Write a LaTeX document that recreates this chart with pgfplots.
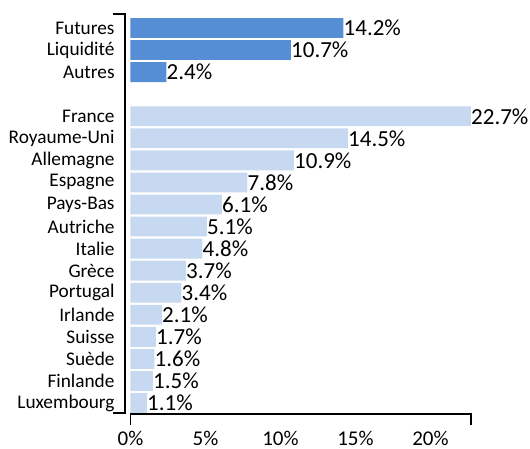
\documentclass[border=0pt]{standalone}
\usepackage{fontspec}
\setmainfont{Carlito}
\usepackage{pgfplots}
\pgfplotsset{compat=1.18}
\definecolor{dblue}{HTML}{558ED5}
\definecolor{lblue}{HTML}{C6D9F1}
\begin{document}
\begin{tikzpicture}
\begin{axis}[
  scale only axis,
  width=340.5pt, height=401.5pt,
  xmin=0, xmax=22.7,
  ymin=-0.7, ymax=17.5,
  y dir=reverse,
  clip=false,
  axis line style={draw=none},
  tick style={draw=none},
  xtick pos=bottom, ytick pos=left,
  xtick={0,5,10,15,20},
  xticklabels={0\%,5\%,10\%,15\%,20\%},
  ytick={0,1,2,4,5,6,7,8,9,10,11,12,13,14,15,16,17},
  yticklabels={Futures,Liquidité,Autres,France,Royaume-Uni,Allemagne,Espagne,Pays-Bas,Autriche,Italie,Grèce,Portugal,Irlande,Suisse,Suède,Finlande,Luxembourg},
  yticklabel style={anchor=east, inner sep=0pt, xshift=-11.5pt, font=\fontsize{19.3}{19.3}\selectfont},
  xticklabel style={anchor=north, inner sep=0pt, yshift=-16.5pt, font=\fontsize{21}{21}\selectfont},
  xbar, bar width=0.9,
  point meta=x,
  /pgf/number format/assume math mode=true,
  nodes near coords={\pgfmathprintnumber[fixed,fixed zerofill,precision=1]{\pgfplotspointmeta}\%},
  nodes near coords style={anchor=west, inner sep=0pt, font=\fontsize{23}{23}\selectfont},
]
\addplot[fill=dblue, draw=none, bar shift=0pt] coordinates {(14.2,0) (10.7,1) (2.4,2)};
\addplot[fill=lblue, draw=none, bar shift=0pt] coordinates {(22.7,4) (14.5,5) (10.9,6) (7.8,7) (6.1,8) (5.1,9) (4.8,10) (3.7,11) (3.4,12) (2.1,13) (1.7,14) (1.6,15) (1.5,16) (1.1,17)};
\draw[line width=1.6pt, line join=miter] ([xshift=-17.5pt]axis cs:0,-0.635) -- ([xshift=-5.5pt]axis cs:0,-0.635) -- ([xshift=-5.5pt]axis cs:0,17.44) -- ([xshift=-17.5pt]axis cs:0,17.44);
\draw[line width=1.6pt, line join=miter] ([yshift=-11pt]axis cs:0,17.5) -- (axis cs:0,17.5) -- (axis cs:22.7,17.5) -- ([yshift=-11pt]axis cs:22.7,17.5);
\end{axis}
\pgfresetboundingbox
\path ([xshift=-130.5pt,yshift=-34pt]current axis.south west) rectangle ([xshift=59pt,yshift=12.56pt]current axis.north east);
\end{tikzpicture}
\end{document}
